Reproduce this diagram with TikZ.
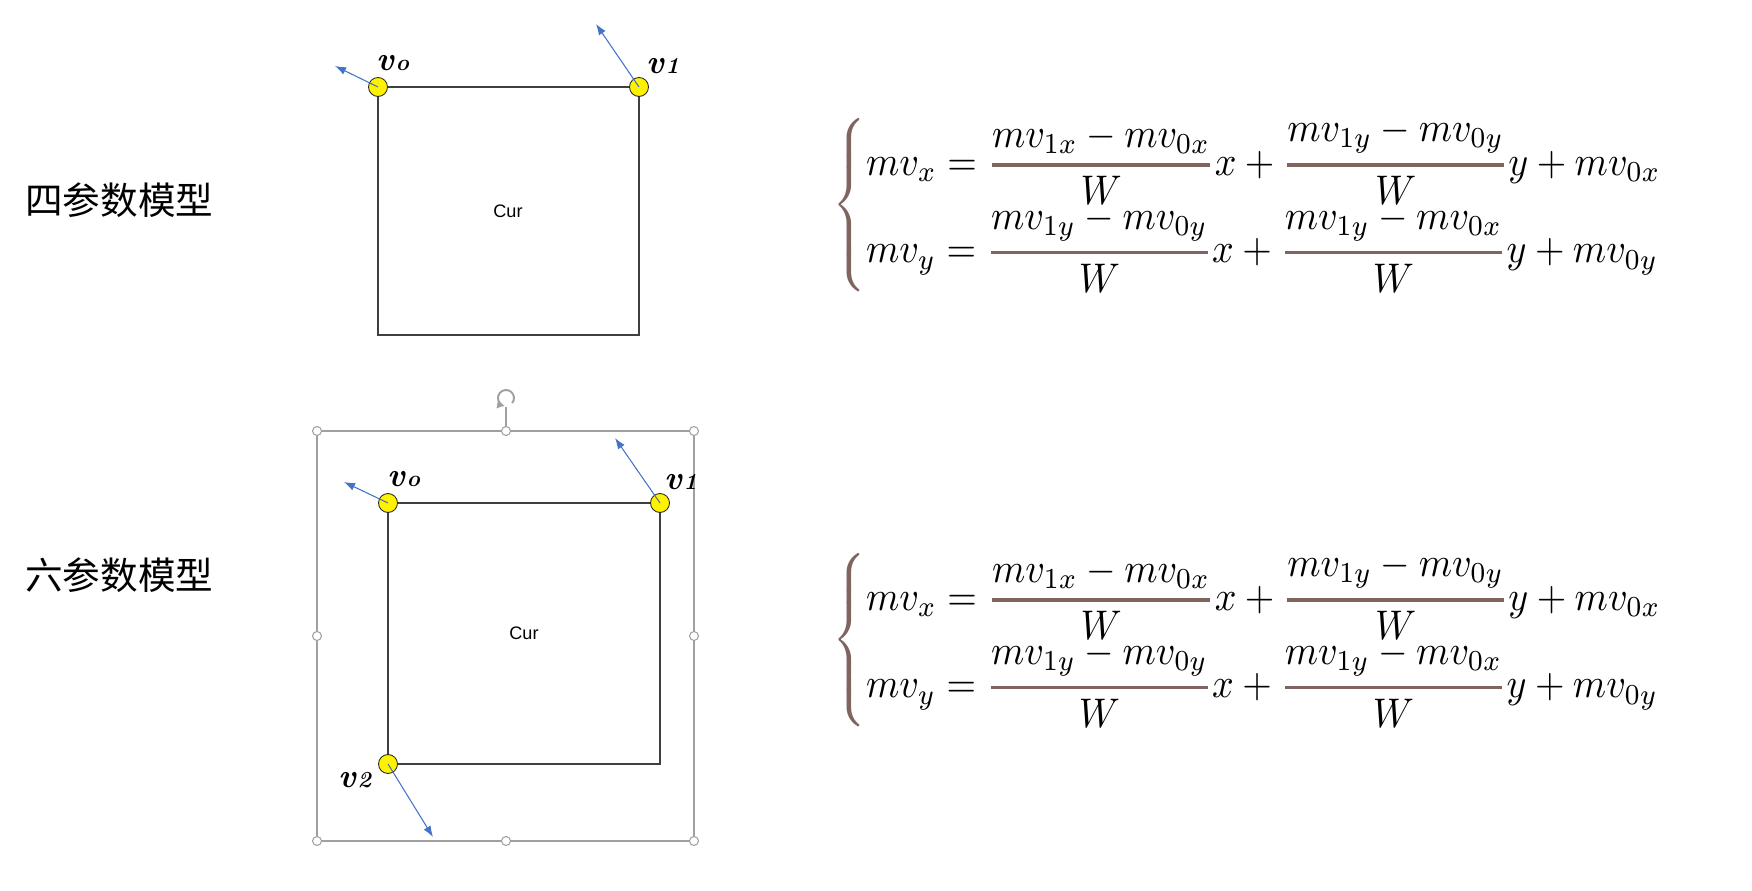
\documentclass[tikz,border=0pt]{standalone}
\usepackage{fontspec}
\usepackage{amsmath}
\usepackage{graphicx}
\usetikzlibrary{arrows.meta,positioning,calc}
\newfontfamily\cjk{Noto Sans CJK SC}
\newfontfamily\arialfont{Liberation Sans}
\definecolor{vecblue}{RGB}{68,114,196}
\definecolor{rulebrown}{RGB}{128,100,96}
\definecolor{boxgray}{RGB}{64,64,64}
\definecolor{selgray}{RGB}{160,160,160}
\newcommand{\bfr}[2]{{\color{rulebrown}\genfrac{}{}{0.8pt}{0}{\color{black}#1}{\color{black}#2}}}
\newcommand{\vname}[1]{\textbf{\textit{v}}{\fontsize{13}{13}\selectfont\bfseries\itshape #1}}
\newcommand{\mveqs}{\resizebox*{16.66cm}{3.5cm}{$\color{rulebrown}\left\{\color{black}\begin{array}{@{}l@{}}
\displaystyle mv_x=\bfr{mv_{1x}-mv_{0x}}{W}x+\bfr{mv_{1y}-mv_{0y}}{W}y+mv_{0x}\\[2pt]
\displaystyle mv_y=\bfr{mv_{1y}-mv_{0y}}{W}x+\bfr{mv_{1y}-mv_{0x}}{W}y+mv_{0y}
\end{array}\right.$}}

\begin{document}
\begin{tikzpicture}[x=0.02cm,y=-0.02cm,
 pt/.style={circle,draw=black!85,fill=yellow,line width=0.5pt,minimum size=0.38cm,inner sep=0pt},
 vec/.style={vecblue,line width=0.6pt,-{Latex[length=2.2mm,width=1.6mm]}},
 sq/.style={boxgray,line width=1.1pt},
 vlab/.style={font=\fontsize{19}{19}\selectfont,inner sep=0pt},
 cur/.style={font=\arialfont\fontsize{10.3}{12}\selectfont},
 cn/.style={font=\cjk\fontsize{21.4}{24}\selectfont,anchor=west,inner sep=0pt},
 hd/.style={circle,draw=selgray,fill=white,line width=0.6pt,minimum size=0.18cm,inner sep=0pt},
 eq/.style={anchor=west,inner sep=0pt}]
\useasboundingbox (0,0) rectangle (1752,891);
% labels on the left
\node[cn] (four) at (25,200) {四参数模型};
\node[cn] (six) at (25,575) {六参数模型};
% four-parameter model
\coordinate (c2) at (378,335);
\coordinate (c3) at (639,335);
\draw[sq] (378,87) -- (639,87) -- (c3) -- (c2) -- cycle;
\node[cur] (cura) at (508,211) {Cur};
\node[pt] (p0) at (378,87) {};
\node[pt] (p1) at (639,87) {};
\coordinate (t0) at (335,66);
\coordinate (t1) at (596,24);
\draw[vec] (p0.center) -- (t0);
\draw[vec] (p1.center) -- (t1);
\node[vlab] (l0) at (393,63) {\vname{o}};
\node[vlab] (l1) at (663,66) {\vname{1}};
% six-parameter model, selection frame first
\draw[selgray,line width=0.8pt] (317,431) rectangle (694,841);
\draw[selgray,line width=0.8pt] (506,431) -- (506,407);
\draw[selgray,line width=1.1pt,-{Latex[length=1.5mm,width=1.7mm]}] (506,398) ++(40:8) arc (40:-260:8);
\foreach \hx/\hy [count=\i] in {317/431,506/431,694/431,317/636,694/636,317/841,506/841,694/841}
  \node[hd] (h\i) at (\hx,\hy) {};
\coordinate (c4) at (660,764);
\draw[sq] (388,503) -- (660,503) -- (c4) -- (388,764) -- cycle;
\node[cur] (curb) at (524,633) {Cur};
\node[pt] (q0) at (388,503) {};
\node[pt] (q1) at (660,503) {};
\node[pt] (q2) at (388,764) {};
\coordinate (s0) at (344,482);
\coordinate (s1) at (615,438);
\coordinate (s2) at (433,837);
\draw[vec] (q0.center) -- (s0);
\draw[vec] (q1.center) -- (s1);
\draw[vec] (q2.center) -- (s2);
\node[vlab] (m0) at (404,479) {\vname{o}};
\node[vlab] (m1) at (681,482) {\vname{1}};
\node[vlab] (m2) at (355,780) {\vname{2}};
% equations
\node[eq] (eqa) at (832,205) {\mveqs};
\node[eq] (eqb) at (832,640) {\mveqs};
\end{tikzpicture}
\end{document}
